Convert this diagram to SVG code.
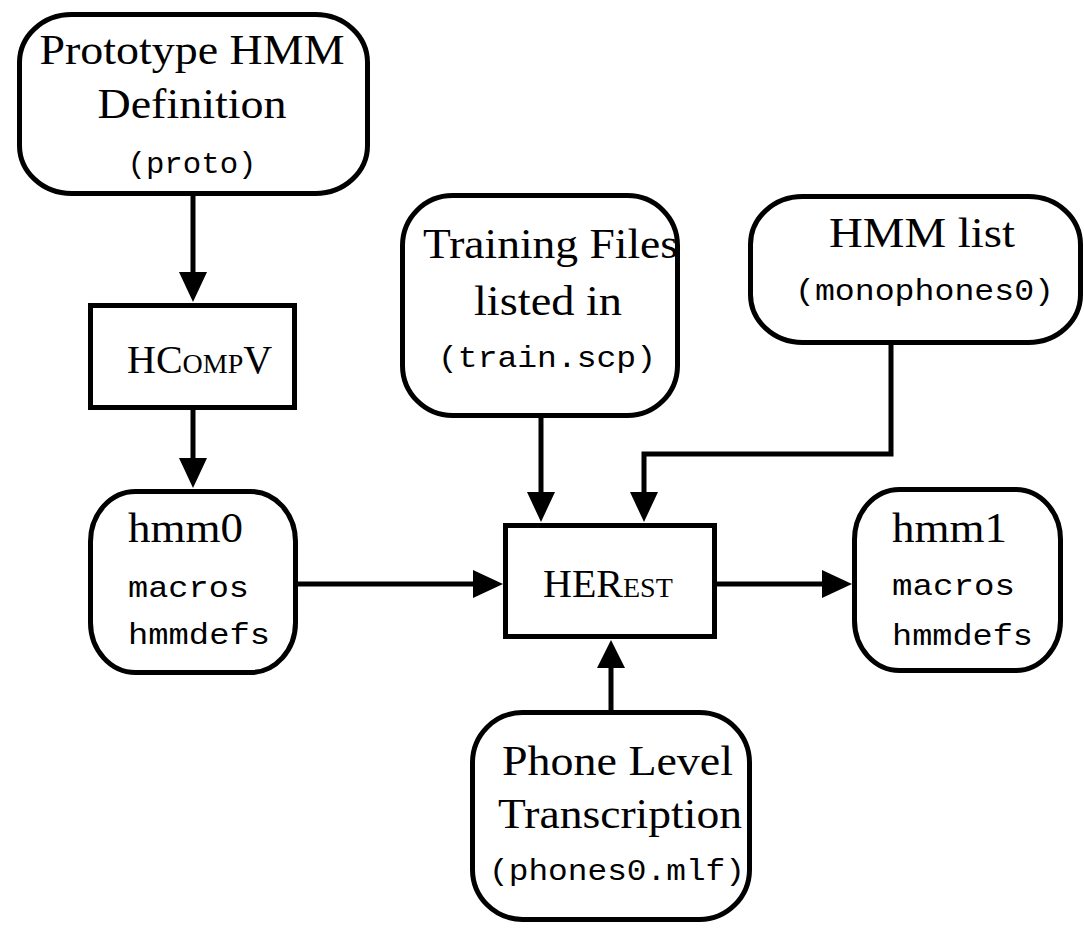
<svg xmlns="http://www.w3.org/2000/svg" width="1084" height="928" viewBox="0 0 1084 928">
<style>
.node{fill:#fff;stroke:#000;stroke-width:5}
.serif{font-family:"Liberation Serif","Times New Roman",serif;font-size:42px;fill:#000}
.prog{font-family:"Liberation Serif","Times New Roman",serif;font-size:40px;fill:#000}
.mono{font-family:"Liberation Mono","Courier New",monospace;font-size:30px;fill:#000}
.edge{fill:none;stroke:#000;stroke-width:5}
.head{fill:#000;stroke:none}
</style>
<rect width="1084" height="928" fill="#fff"/>
<g id="connectors">
<path class="edge" d="M193,196 V276"/>
<polygon class="head" points="179,272 207,272 193,302"/>
<path class="edge" d="M193,410 V462"/>
<polygon class="head" points="179,458 207,458 193,488"/>
<path class="edge" d="M541,418 V496"/>
<polygon class="head" points="527,492 555,492 541,522"/>
<path class="edge" d="M891,345 V454 H644 V496"/>
<polygon class="head" points="630,492 658,492 644,522"/>
<path class="edge" d="M298,584 H477"/>
<polygon class="head" points="473,570 473,598 503,584"/>
<path class="edge" d="M717,584 H826"/>
<polygon class="head" points="822,570 822,598 852,584"/>
<path class="edge" d="M611,710 V664"/>
<polygon class="head" points="597,668 625,668 611,640"/>
</g>
<g id="proto">
<rect class="node" x="19.5" y="14.5" width="348" height="179" rx="52" ry="48"/>
<text class="serif" x="192" y="64" text-anchor="middle" textLength="305" lengthAdjust="spacingAndGlyphs">Prototype HMM</text>
<text class="serif" x="192" y="118" text-anchor="middle" textLength="189" lengthAdjust="spacingAndGlyphs">Definition</text>
<text class="mono" x="192" y="173" text-anchor="middle" textLength="129" lengthAdjust="spacingAndGlyphs">(proto)</text>
</g>
<g id="hcompv">
<rect class="node" x="90.5" y="305.5" width="204" height="102"/>
<text class="prog" x="127" y="373">HC<tspan font-size="28">OMP</tspan>V</text>
</g>
<g id="hmm0">
<rect class="node" x="90.5" y="491.5" width="205" height="181" rx="45" ry="50"/>
<text class="serif" x="128" y="542" textLength="115" lengthAdjust="spacingAndGlyphs">hmm0</text>
<text class="mono" x="128" y="597" textLength="121" lengthAdjust="spacingAndGlyphs">macros</text>
<text class="mono" x="128" y="644" textLength="142" lengthAdjust="spacingAndGlyphs">hmmdefs</text>
</g>
<g id="training">
<rect class="node" x="402.5" y="195.5" width="275" height="220" rx="50" ry="50"/>
<text class="serif" x="423" y="258" textLength="255" lengthAdjust="spacingAndGlyphs">Training Files</text>
<text class="serif" x="474" y="315" textLength="148" lengthAdjust="spacingAndGlyphs">listed in</text>
<text class="mono" x="438" y="367" font-size="34" textLength="218" lengthAdjust="spacingAndGlyphs">(train.scp)</text>
</g>
<g id="hmmlist">
<rect class="node" x="750.5" y="196.5" width="330" height="146" rx="52" ry="48"/>
<text class="serif" x="829" y="247" textLength="186" lengthAdjust="spacingAndGlyphs">HMM list</text>
<text class="mono" x="795" y="300" textLength="259" lengthAdjust="spacingAndGlyphs">(monophones0)</text>
</g>
<g id="herest">
<rect class="node" x="505.5" y="525.5" width="209" height="111"/>
<text class="prog" x="543" y="597">HER<tspan font-size="28">EST</tspan></text>
</g>
<g id="hmm1">
<rect class="node" x="854.5" y="489.5" width="206" height="181" rx="45" ry="50"/>
<text class="serif" x="892" y="542" textLength="115" lengthAdjust="spacingAndGlyphs">hmm1</text>
<text class="mono" x="892" y="595" textLength="123" lengthAdjust="spacingAndGlyphs">macros</text>
<text class="mono" x="892" y="645" textLength="141" lengthAdjust="spacingAndGlyphs">hmmdefs</text>
</g>
<g id="phone">
<rect class="node" x="472.5" y="712.5" width="277" height="207" rx="50" ry="50"/>
<text class="serif" x="502" y="775" textLength="231" lengthAdjust="spacingAndGlyphs">Phone Level</text>
<text class="serif" x="498" y="828" textLength="244" lengthAdjust="spacingAndGlyphs">Transcription</text>
<text class="mono" x="489" y="880" font-size="32" textLength="256" lengthAdjust="spacingAndGlyphs">(phones0.mlf)</text>
</g>
</svg>
